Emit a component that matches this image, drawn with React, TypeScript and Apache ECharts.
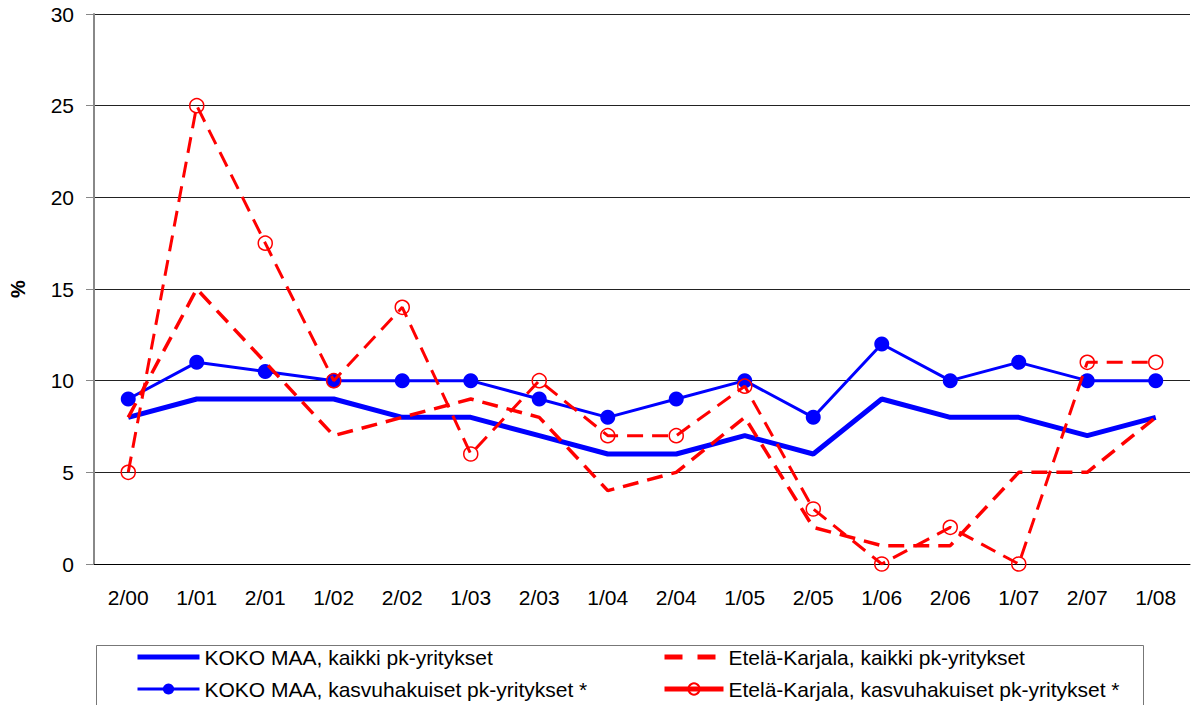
import React, { useEffect, useRef } from "react";
import * as echarts from "echarts";

const categories = ["2/00", "1/01", "2/01", "1/02", "2/02", "1/03", "2/03", "1/04", "2/04", "1/05", "2/05", "1/06", "2/06", "1/07", "2/07", "1/08"];
const kokoKaikki = [8, 9, 9, 9, 8, 8, 7, 6, 6, 7, 6, 9, 8, 8, 7, 8];
const kokoKasvu = [9, 11, 10.5, 10, 10, 10, 9, 8, 9, 10, 8, 12, 10, 11, 10, 10];
const ekKaikki = [8, 15, 11, 7, 8, 9, 8, 4, 5, 8, 2, 1, 1, 5, 5, 8];
const ekKasvu = [5, 25, 17.5, 10, 14, 6, 10, 7, 7, 9.7, 3, 0, 2, 0, 11, 11];
const yTicks = { min: 0, max: 30, interval: 5 };

const N1 = "KOKO MAA, kaikki pk-yritykset";
const N2 = "KOKO MAA, kasvuhakuiset pk-yritykset *";
const N3 = "Etelä-Karjala, kaikki pk-yritykset";
const N4 = "Etelä-Karjala, kasvuhakuiset pk-yritykset *";

const FONT = "'Liberation Sans', Arial, sans-serif";

export default function App() {
  const ref = useRef<HTMLDivElement>(null);
  useEffect(() => {
    if (!ref.current) return;
    const chart = echarts.init(ref.current, undefined, { renderer: "svg" });
    const textStyle = { fontFamily: FONT, fontSize: 21, color: "#000", lineHeight: 24 };
    const legendBase = {
      orient: "vertical",
      top: 640,
      height: 200,
      itemHeight: 14,
      itemGap: 8,
      textStyle,
    };
    chart.setOption({
      animation: false,
      backgroundColor: "#fff",
      textStyle: { fontFamily: FONT },
      grid: { left: 90, right: 2, top: 14, bottom: 141, containLabel: false },
      xAxis: {
        type: "category",
        data: categories,
        boundaryGap: true,
        axisLine: { show: true, lineStyle: { color: "#000", width: 1 } },
        axisTick: { show: false },
        axisLabel: { fontFamily: FONT, fontSize: 21, color: "#000", margin: 23 },
      },
      yAxis: {
        type: "value",
        min: yTicks.min,
        max: yTicks.max,
        interval: yTicks.interval,
        name: "%",
        nameLocation: "middle",
        nameRotate: 90,
        nameGap: 66,
        nameTextStyle: { fontFamily: FONT, fontSize: 20, fontWeight: "bold", color: "#000" },
        axisLine: { show: true, lineStyle: { color: "#888", width: 2 } },
        axisTick: { show: true, length: 8, lineStyle: { color: "#888", width: 1 } },
        axisLabel: { fontFamily: FONT, fontSize: 21, color: "#000", margin: 20 },
        splitLine: { show: true, lineStyle: { color: "#222", width: 1 } },
      },
      legend: [
        {
          ...legendBase,
          left: 130,
          itemWidth: 62,
          data: [
            { name: N1, itemStyle: { opacity: 0 }, lineStyle: { width: 5 } },
            { name: N2, lineStyle: { width: 3 } },
          ],
        },
        {
          ...legendBase,
          left: 657,
          itemWidth: 59,
          data: [
            { name: N3, itemStyle: { opacity: 0 }, lineStyle: { width: 5, type: [18, 15] } },
            { name: N4, lineStyle: { width: 5, type: "solid" } },
          ],
        },
      ],
      graphic: [
        {
          type: "rect",
          left: 94,
          top: 643,
          shape: { width: 1047, height: 80 },
          style: { fill: "none", stroke: "#777", lineWidth: 1 },
          z: -1,
        },
      ],
      series: [
        {
          name: N1,
          type: "line",
          data: kokoKaikki,
          symbol: "none",
          color: "#0000ff",
          lineStyle: { color: "#0000ff", width: 5 },
          z: 2,
        },
        {
          name: N2,
          type: "line",
          data: kokoKasvu,
          symbol: "circle",
          symbolSize: 15,
          color: "#0000ff",
          itemStyle: { color: "#0000ff" },
          lineStyle: { color: "#0000ff", width: 3 },
          z: 3,
        },
        {
          name: N3,
          type: "line",
          data: ekKaikki,
          symbol: "none",
          color: "#ff0000",
          lineStyle: { color: "#ff0000", width: 3.5, type: [16, 9] },
          z: 4,
        },
        {
          name: N4,
          type: "line",
          data: ekKasvu,
          symbol: "circle",
          symbolSize: 14,
          color: "#ff0000",
          itemStyle: { color: "rgba(255,255,255,0)", borderColor: "#ff0000", borderWidth: 1.5 },
          lineStyle: { color: "#ff0000", width: 3, type: [16, 9] },
          z: 5,
        },
      ],
    });
    return () => chart.dispose();
  }, []);
  return (
    <div
      ref={ref}
      style={{ position: "fixed", left: 0, top: 0, width: 1192, height: 705, background: "#fff" }}
    />
  );
}
